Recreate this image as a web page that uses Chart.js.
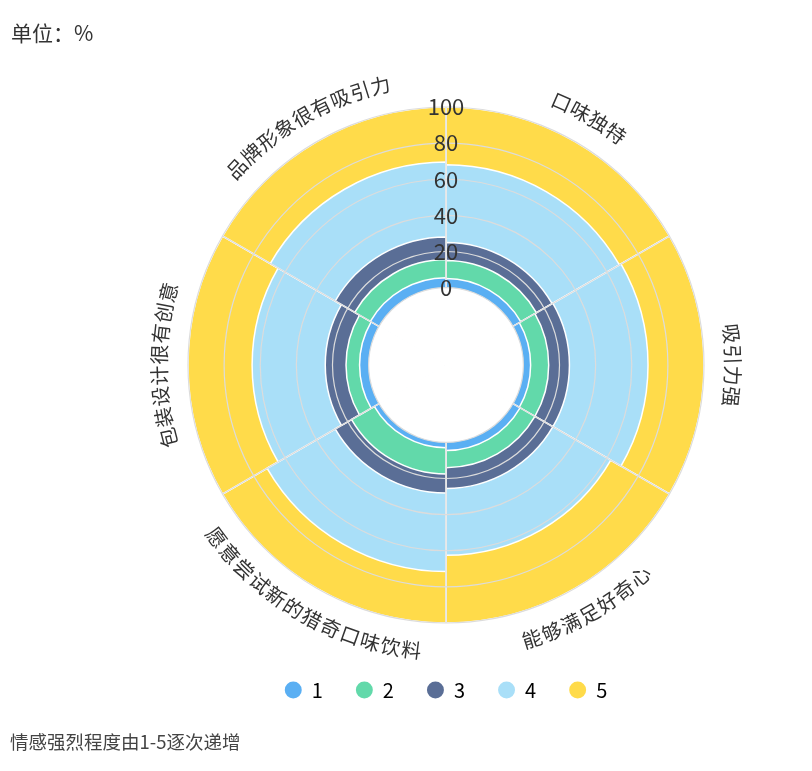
<!DOCTYPE html>
<html>
<head>
<meta charset="utf-8">
<script src="https://cdn.jsdelivr.net/npm/chart.js@4"></script>
<style>
  body { margin: 0; background: #fff; font-family: "Noto Sans CJK SC", sans-serif; }
  #wrap { position: relative; width: 812px; height: 771px; }
  .unit { position: absolute; left: 11px; top: 21px; font-size: 21px; line-height: 22px; color: #333; }
  .note { position: absolute; left: 10px; top: 731px; font-size: 18.5px; line-height: 20px; color: #444; }
</style>
</head>
<body>
<div id="wrap">
  <div class="unit">单位：%</div>
  <canvas id="myChart"></canvas>
  <div class="note">情感强烈程度由1-5逐次递增</div>
</div>
<script>
var categories = ['口味独特', '吸引力强', '能够满足好奇心', '愿意尝试新的猎奇口味饮料', '包装设计很有创意', '品牌形象很有吸引力'];
var levels = ['1', '2', '3', '4', '5'];
var level1 = [5, 4, 4.5, 3, 5, 5.5];
var level2 = [10, 10, 9.5, 14.5, 7.5, 10];
var level3 = [10, 11.5, 11.5, 10.5, 11.5, 12.5];
var level4 = [43, 43.5, 37, 43.5, 40.5, 41.5];
var level5 = [32, 31, 37.5, 28.5, 35.5, 30.5];
var colors = ['#5aaff3', '#62d9aa', '#5a6e96', '#a9dff8', '#ffdb4a'];
var holeRatio = 0.3; // inner empty part of the radius

var series = [level1, level2, level3, level4, level5];
var FONT = '"Noto Sans CJK SC", sans-serif';

// stacked rings: each level is drawn as a sector up to its running total,
// smaller totals on top (dataset 0 is drawn last)
var running = categories.map(function() { return 0; });
var ringSets = series.map(function(vals, k) {
    running = running.map(function(r, i) { return r + vals[i]; });
    return {
        label: levels[k],
        data: running.slice(),
        backgroundColor: colors[k],
        borderColor: '#ffffff',
        borderWidth: 1.5
    };
});
var hole = {
    label: 'hole',
    data: categories.map(function() { return 0; }),
    backgroundColor: '#ffffff',
    borderWidth: 0
};

function angleLineColor(c) {
    var s = c.chart.scales.r;
    var h = s.getDistanceFromCenterForValue(0) / s.drawingArea;
    var g = c.chart.ctx.createRadialGradient(s.xCenter, s.yCenter, 0, s.xCenter, s.yCenter, s.drawingArea);
    g.addColorStop(0, 'rgba(221,221,221,0)');
    g.addColorStop(h, 'rgba(221,221,221,0)');
    g.addColorStop(Math.min(h + 0.003, 1), '#dcdcdc');
    g.addColorStop(1, '#dcdcdc');
    return g;
}

// category names written along the outer circle
var curvedLabels = {
    id: 'curvedLabels',
    afterDraw: function(chart) {
        var s = chart.scales.r;
        var ctx = chart.ctx;
        var n = chart.data.labels.length;
        var R = s.drawingArea + 29;
        ctx.save();
        ctx.font = '20px ' + FONT;
        ctx.fillStyle = '#333';
        ctx.textAlign = 'center';
        ctx.textBaseline = 'middle';
        chart.data.labels.forEach(function(label, i) {
            var mid = s.getIndexAngle(i) + Math.PI / n;
            var upper = Math.cos(mid) >= -1e-6;
            var chars = Array.from(label);
            var widths = chars.map(function(ch) { return ctx.measureText(ch).width + 1; });
            var total = widths.reduce(function(a, b) { return a + b; }, 0);
            var acc = -total / 2;
            chars.forEach(function(ch, k) {
                var off = (acc + widths[k] / 2) / R;
                acc += widths[k];
                var a = upper ? mid + off : mid - off;
                ctx.save();
                ctx.translate(s.xCenter + R * Math.sin(a), s.yCenter - R * Math.cos(a));
                ctx.rotate(upper ? a : a - Math.PI);
                ctx.fillText(ch, 0, 0);
                ctx.restore();
            });
        });
        ctx.restore();
    }
};

var ctx = document.getElementById('myChart').getContext('2d');
var myChart = new Chart(ctx, {
    type: 'polarArea',
    data: {
        labels: categories,
        datasets: [hole].concat(ringSets)
    },
    plugins: [curvedLabels],
    options: {
        responsive: true,
        maintainAspectRatio: false,
        animation: false,
        layout: { padding: { top: 83, left: 80, right: 0, bottom: 61 } },
        scales: {
            r: {
                min: -100 * holeRatio / (1 - holeRatio),
                max: 100,
                startAngle: 0,
                grid: {
                    circular: true,
                    z: 1,
                    color: function(c) { return c.tick && c.tick.value < 0 ? 'rgba(0,0,0,0)' : '#dcdcdc'; },
                    lineWidth: 1.2
                },
                angleLines: { display: true, color: angleLineColor, lineWidth: 1.2 },
                pointLabels: { display: false },
                ticks: {
                    z: 2,
                    stepSize: 20,
                    showLabelBackdrop: false,
                    backdropPadding: 13,
                    color: '#333',
                    font: { size: 22, family: FONT },
                    callback: function(v) { return v < 0 ? '' : v; }
                }
            }
        },
        plugins: {
            tooltip: { enabled: false },
            legend: {
                position: 'bottom',
                onClick: null,
                labels: {
                    usePointStyle: true,
                    boxWidth: 17,
                    boxHeight: 12,
                    padding: 33,
                    color: '#333',
                    font: { size: 20, family: FONT },
                    generateLabels: function(chart) {
                        return chart.data.datasets.slice(1).map(function(ds, i) {
                            return {
                                text: ds.label,
                                fillStyle: ds.backgroundColor,
                                strokeStyle: ds.backgroundColor,
                                lineWidth: 0,
                                pointStyle: 'circle',
                                hidden: false,
                                datasetIndex: i + 1
                            };
                        });
                    }
                }
            }
        }
    }
});
</script>
</body>
</html>
